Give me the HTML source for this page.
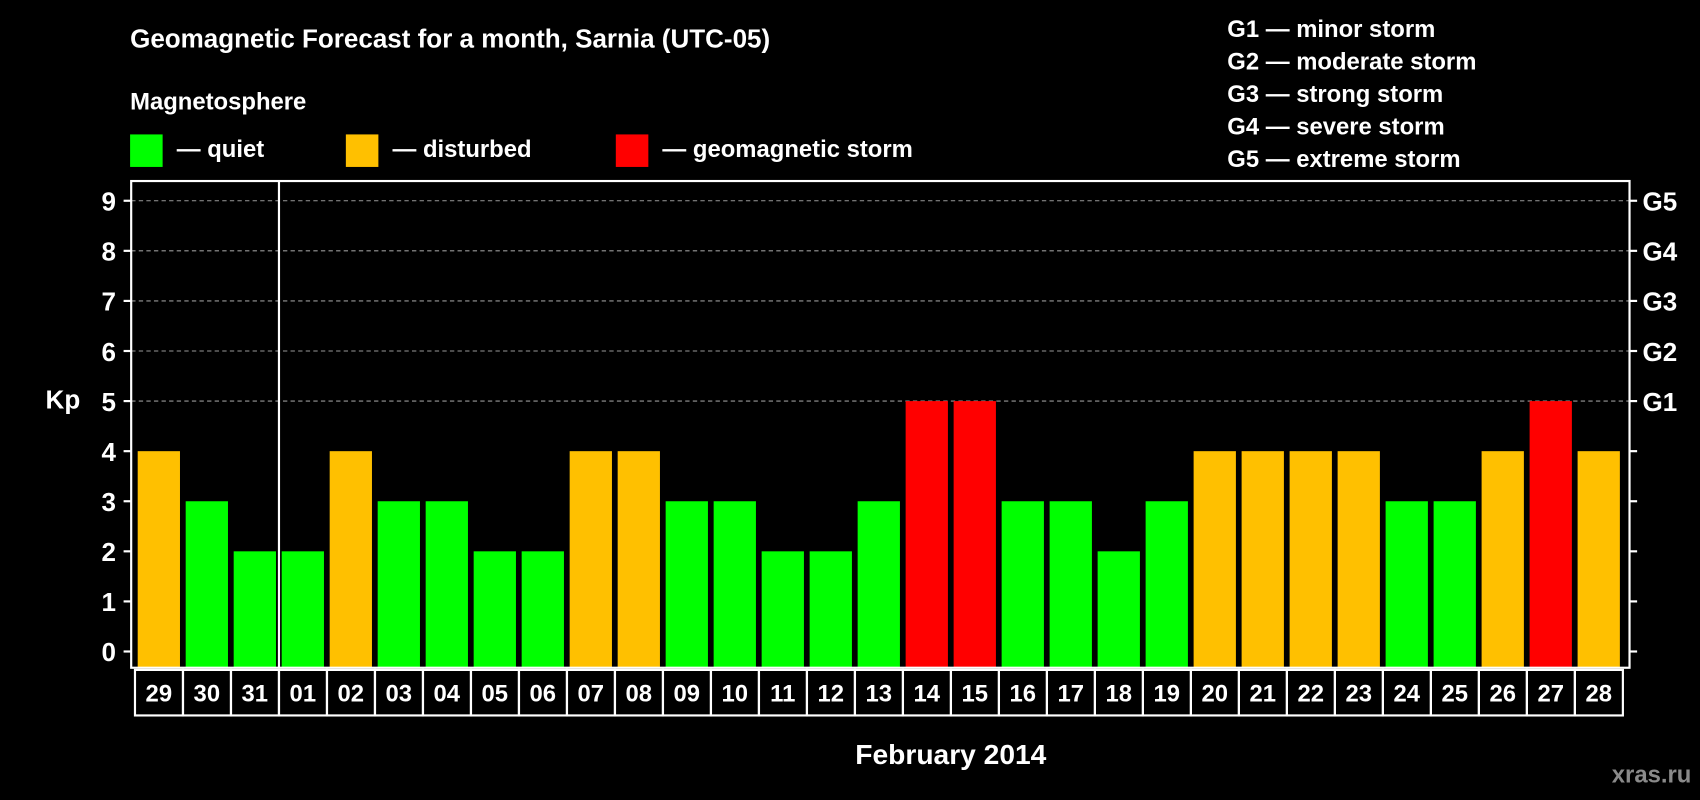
<!DOCTYPE html>
<html><head><meta charset="utf-8"><style>
html,body{margin:0;padding:0;background:#000;width:1700px;height:800px;overflow:hidden}
svg{display:block}
text{font-family:"Liberation Sans",sans-serif;font-weight:bold;fill:#fff}
</style></head><body>
<svg id="chart" width="1700" height="800" viewBox="0 0 1568 738" preserveAspectRatio="none">
<rect width="1568" height="738" fill="#000"/>
<text x="120" y="44" font-size="24">Geomagnetic Forecast for a month, Sarnia (UTC-05)</text>
<text x="120" y="101" font-size="22">Magnetosphere</text>
<g>
<rect x="120" y="124" width="30" height="30" fill="#00ff00"/>
<text x="163" y="145" font-size="22">— quiet</text>
<rect x="319" y="124" width="30" height="30" fill="#ffc000"/>
<text x="362" y="145" font-size="22">— disturbed</text>
<rect x="568" y="124" width="30" height="30" fill="#ff0000"/>
<text x="611" y="145" font-size="22">— geomagnetic storm</text>
</g>
<g font-size="22">
<text x="1132" y="34">G1 — minor storm</text>
<text x="1132" y="64">G2 — moderate storm</text>
<text x="1132" y="94">G3 — strong storm</text>
<text x="1132" y="124">G4 — severe storm</text>
<text x="1132" y="154">G5 — extreme storm</text>
</g>
<text x="58" y="377" font-size="24" text-anchor="middle">Kp</text>
<text x="877" y="705" font-size="26" text-anchor="middle">February 2014</text>
<text x="1560" y="722" font-size="22" text-anchor="end" fill="#8a8a8a" style="fill:#8a8a8a">xras.ru</text>
<g id="plot"></g>
</svg>
<script>
const days=["29","30","31","01","02","03","04","05","06","07","08","09","10","11","12","13","14","15","16","17","18","19","20","21","22","23","24","25","26","27","28"];
const kp=[4,3,2,2,4,3,3,2,2,4,4,3,3,2,2,3,5,5,3,3,2,3,4,4,4,4,3,3,4,5,4];
const yTicks=[0,1,2,3,4,5,6,7,8,9];
const gLabels=["G1","G2","G3","G4","G5"];
const NS="http://www.w3.org/2000/svg";
const g=document.getElementById('plot');
const L=121,R=1503,T=167,B=616;
const y=v=>601-v*46.2;
const x0=i=>127+i*44.27;
const bw=39;
function mk(t,a){const e=document.createElementNS(NS,t);for(const k in a)e.setAttribute(k,a[k]);g.appendChild(e);return e;}
yTicks.forEach(v=>{
  if(v>=5){const l=mk('line',{x1:L,x2:R,y1:y(v),y2:y(v),stroke:'#999','stroke-dasharray':'4,3','stroke-width':1});
  
  }
  const tk=mk('line',{x1:L-7,x2:L,y1:y(v),y2:y(v),stroke:'#fff','stroke-width':2});
  
  
  const rt=mk('line',{x1:R,x2:R+7,y1:y(v),y2:y(v),stroke:'#fff','stroke-width':2});
  
  
  const t=mk('text',{x:L-14,y:y(v)+9,'font-size':24,'text-anchor':'end'});t.textContent=v;
  
  
});
gLabels.forEach((s,i)=>{const t=mk('text',{x:R+12,y:y(5+i)+9,'font-size':24});t.textContent=s;
  
  });
kp.forEach((v,i)=>{
  const c=v>=5?'#ff0000':v==4?'#ffc000':'#00ff00';
  const r=mk('rect',{x:x0(i),y:y(v),width:bw,height:B-y(v),fill:c});
  
  
  const bx=mk('rect',{x:x0(i)-2.5,y:B+2,width:44.27,height:42,fill:'none',stroke:'#fff','stroke-width':2});
  
  
  const t=mk('text',{x:x0(i)+bw/2,y:B+31,'font-size':22,'text-anchor':'middle'});t.textContent=days[i];
  
  
});
const fr=mk('rect',{x:L,y:T,width:R-L,height:B-T,fill:'none',stroke:'#fff','stroke-width':2});


const dv=x0(3)-2.5;
const d=mk('line',{x1:dv,x2:dv,y1:T,y2:B,stroke:'#fff','stroke-width':2});


</script>
</body></html>
